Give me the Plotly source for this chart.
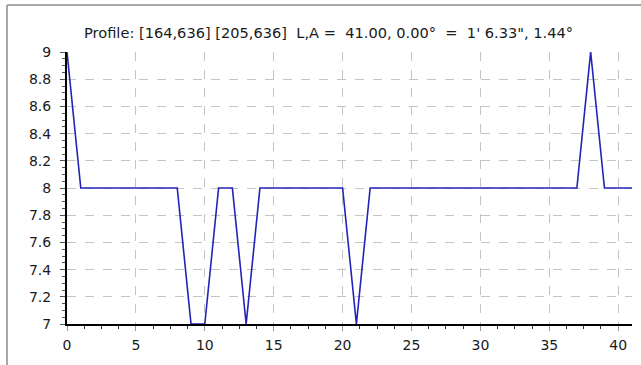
import plotly.graph_objects as go

# Profile samples along the line
positions = list(range(0, 42))
values = [9, 8, 8, 8, 8, 8, 8, 8, 8, 7, 7, 8, 8, 7, 8, 8, 8, 8, 8, 8, 8,
          7, 8, 8, 8, 8, 8, 8, 8, 8, 8, 8, 8, 8, 8, 8, 8, 8, 9, 8, 8, 8]

x_ticks = [0, 5, 10, 15, 20, 25, 30, 35, 40]
y_ticks = [7, 7.2, 7.4, 7.6, 7.8, 8, 8.2, 8.4, 8.6, 8.8, 9]
y_labels = ["7", "7.2", "7.4", "7.6", "7.8", "8", "8.2", "8.4", "8.6", "8.8", "9"]
NB = "\u00a0"
title_text = ("Profile: [164,636] [205,636]" + NB + " L,A =" + NB + " 41.00, 0.00°"
              + NB + " =" + NB + " 1' 6.33\", 1.44°")

W, H = 641, 365
L, R, T, B = 67, 9, 52, 41
pw, ph = W - L - R, H - T - B

def px(xp):
    return (xp - L) / pw

def py(yp):
    return (H - B - yp) / ph

font = dict(family="DejaVu Sans, Verdana, sans-serif", size=14.6, color="#1a1a1a")
tick_font = dict(family="DejaVu Sans, Verdana, sans-serif", size=14, color="#1a1a1a")

fig = go.Figure()
fig.add_trace(go.Scatter(
    x=positions, y=values, mode="lines",
    line=dict(color="#2323b8", width=1.6),
    hoverinfo="x+y", showlegend=False,
))

fig.update_layout(
    width=W, height=H,
    margin=dict(l=L, r=R, t=T, b=B),
    paper_bgcolor="white", plot_bgcolor="white",
    font=font,
    xaxis=dict(
        range=[0, 41], tickvals=x_ticks, ticktext=[str(v) for v in x_ticks],
        showgrid=True, gridcolor="#c4c4c4", griddash="dash", gridwidth=1,
        showline=True, linecolor="black", linewidth=2,
        ticks="outside", ticklen=5, tickcolor="#9a9a9a", tickwidth=1,
        minor=dict(dtick=1.25, tick0=0, ticks="outside", ticklen=3,
                   tickcolor="#333333", showgrid=False),
        zeroline=False, fixedrange=True, tickfont=tick_font,
        ticklabelstandoff=2,
    ),
    yaxis=dict(
        range=[7, 9], tickvals=y_ticks, ticktext=y_labels,
        showgrid=True, gridcolor="#c4c4c4", griddash="dash", gridwidth=1,
        showline=True, linecolor="black", linewidth=2,
        ticks="outside", ticklen=5, tickcolor="#555555", tickwidth=1,
        minor=dict(dtick=0.05, tick0=7, ticks="outside", ticklen=3,
                   tickcolor="#555555", showgrid=False),
        zeroline=False, fixedrange=True, tickfont=tick_font,
        ticklabelstandoff=6,
    ),
    annotations=[dict(
        text=title_text, xref="paper", yref="paper",
        x=px(328), y=py(32), xanchor="center", yanchor="middle",
        showarrow=False, font=font,
    )],
    shapes=[
        dict(type="line", xref="paper", yref="paper",
             x0=px(7), x1=px(W + 2), y0=py(5), y1=py(5),
             line=dict(color="#a8a8a8", width=2)),
        dict(type="line", xref="paper", yref="paper",
             x0=px(7), x1=px(7), y0=py(5), y1=py(H + 2),
             line=dict(color="#a8a8a8", width=2)),
    ],
)

fig.write_html("out.html", config=dict(displayModeBar=False))
